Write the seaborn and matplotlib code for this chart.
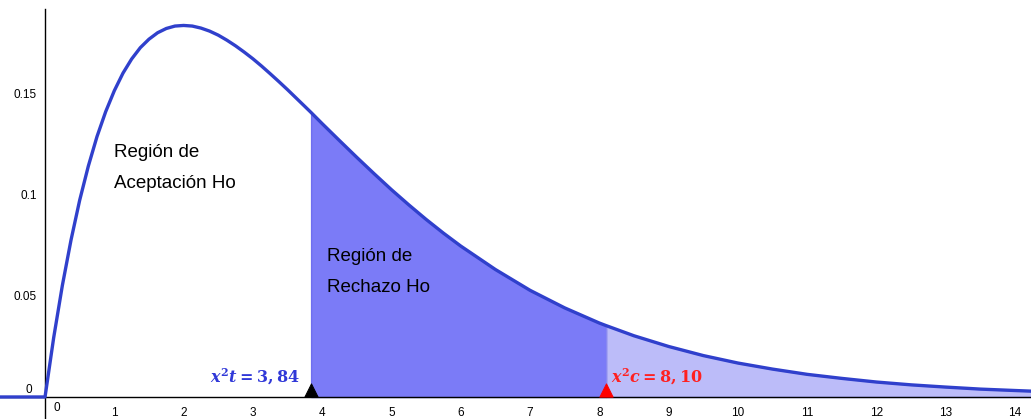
import numpy as np
import pandas as pd
import matplotlib.pyplot as plt
import seaborn as sns

# curve values (chi-square density, 4 d.f.)
x_vals = [-0.7, 0.0, 0.125, 0.25, 0.375, 0.5, 0.625, 0.75, 0.875, 1.0, 1.125,
          1.25, 1.375, 1.5, 1.625, 1.75, 1.875, 2.0, 2.125, 2.25, 2.375, 2.5,
          2.625, 2.75, 2.875, 3.0, 3.125, 3.25, 3.375, 3.5, 3.75, 3.84, 4.0,
          4.25, 4.5, 4.75, 5.0, 5.25, 5.5, 5.75, 6.0, 6.5, 7.0, 7.5, 8.0, 8.1,
          8.5, 9.0, 9.5, 10.0, 10.5, 11.0, 11.5, 12.0, 12.5, 13.0, 13.5, 14.0,
          14.3]
y_vals = [0.0, 0.0, 0.0294, 0.0552, 0.0777, 0.0974, 0.1143, 0.1289, 0.1412,
          0.1516, 0.1603, 0.1673, 0.1729, 0.1771, 0.1803, 0.1824, 0.1836,
          0.1839, 0.1836, 0.1826, 0.1811, 0.1791, 0.1766, 0.1738, 0.1707,
          0.1674, 0.1638, 0.1600, 0.1561, 0.1521, 0.1438, 0.1408, 0.1353,
          0.1269, 0.1186, 0.1105, 0.1026, 0.0951, 0.0879, 0.0811, 0.0747,
          0.0631, 0.0528, 0.0441, 0.0366, 0.0353, 0.0303, 0.0250, 0.0205,
          0.0168, 0.0138, 0.0112, 0.0092, 0.0074, 0.0060, 0.0049, 0.0039,
          0.0032, 0.0028]

x_t = 3.84   # valor de tabla
x_c = 8.10   # valor calculado
x_ticks = list(range(1, 15))
y_ticks = [0.05, 0.1, 0.15]
y_tick_labels = ["0.05", "0.1", "0.15"]

df = pd.DataFrame({"x": x_vals, "y": y_vals})

sns.set_style("white")
plt.rcParams["font.family"] = ["Liberation Sans", "DejaVu Sans"]
plt.rcParams["mathtext.fontset"] = "custom"
plt.rcParams["mathtext.it"] = "DejaVu Serif:italic:bold"
plt.rcParams["mathtext.rm"] = "DejaVu Serif:bold"

fig = plt.figure(figsize=(10.31, 4.19), dpi=100)
ax = fig.add_axes([0, 0, 1, 1])

# shaded regions
rej = df[(df.x >= x_t) & (df.x <= x_c)]
tail = df[df.x >= x_c]
ax.fill_between(rej.x, 0, rej.y, color="#7b7bf7", edgecolor="#6f6ff0", lw=1, zorder=1)
ax.fill_between(tail.x, 0, tail.y, color="#bcbcf9", edgecolor="#8a8af0", lw=1, zorder=1)

sns.lineplot(data=df, x="x", y="y", ax=ax, color="#3040cc", lw=2.4,
             estimator=None, sort=False, zorder=3)

# markers on the axis
sns.scatterplot(x=[x_t], y=[0.0035], ax=ax, marker="^", s=90, color="black",
                edgecolor="black", zorder=5, clip_on=False)
sns.scatterplot(x=[x_c], y=[0.0035], ax=ax, marker="^", s=90, color="red",
                edgecolor="red", zorder=5, clip_on=False)

ax.set_xlim(-0.65, 14.23)
ax.set_ylim(-0.0109, 0.1965)

ax.spines["left"].set_position(("data", 0))
ax.spines["bottom"].set_position(("data", 0))
ax.spines["top"].set_visible(False)
ax.spines["right"].set_visible(False)
ax.spines["left"].set_bounds(-0.0109, 0.192)
for s in ["left", "bottom"]:
    ax.spines[s].set_color("black")
    ax.spines[s].set_linewidth(1)

ax.set_xticks(x_ticks)
ax.set_xticklabels([str(t) for t in x_ticks])
ax.set_yticks(y_ticks)
ax.set_yticklabels(y_tick_labels)
ax.tick_params(axis="both", direction="out", length=4, width=1, labelsize=8.5,
               colors="black", pad=3)
ax.tick_params(axis="y", pad=2)
ax.set_xlabel("")
ax.set_ylabel("")

ax.text(0.12, -0.0055, "0", fontsize=8.5, ha="left", va="center", color="black")
ax.text(-0.18, 0.0035, "0", fontsize=8.5, ha="right", va="center", color="black")

ax.text(1.0, 0.1134, "Región de\nAceptación Ho", fontsize=13.5, ha="left",
        va="center", linespacing=2.1, color="black")
ax.text(4.07, 0.0617, "Región de\nRechazo Ho", fontsize=13.5, ha="left",
        va="center", linespacing=2.1, color="black")

ax.text(3.68, 0.0100, r"$x^2t = 3,84$", color="#3038d8", fontsize=11.5,
        ha="right", va="center")
ax.text(8.17, 0.0100, r"$x^2c = 8,10$", color="#ff2020", fontsize=11.5,
        ha="left", va="center")

fig.savefig("out.png", dpi=100)
